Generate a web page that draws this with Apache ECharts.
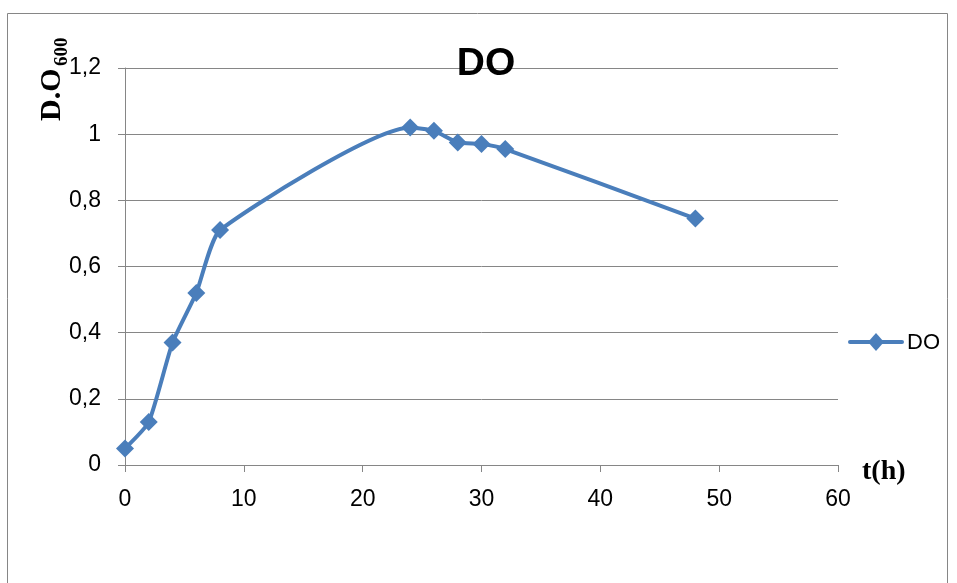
<!DOCTYPE html>
<html>
<head>
<meta charset="utf-8">
<script src="https://cdn.jsdelivr.net/npm/echarts@6/dist/echarts.min.js"></script>
<style>
  html, body { margin: 0; padding: 0; background: #ffffff; }
  #chart { width: 957px; height: 583px; }
</style>
</head>
<body>
<div id="chart"></div>
<script>
// Optical density at 600 nm over time
const hours = [0, 2, 4, 6, 8, 24, 26, 28, 30, 32, 48];
const doValues = [0.05, 0.13, 0.37, 0.52, 0.71, 1.02, 1.01, 0.975, 0.97, 0.955, 0.745];
const seriesName = 'DO';

const axisGray = '#868686';
const lineBlue = '#4A7EBB';
const sansFont = 'Liberation Sans, Arial, sans-serif';
const serifFont = 'Liberation Serif, Times New Roman, serif';

const chart = echarts.init(document.getElementById('chart'), null, { renderer: 'canvas' });

chart.setOption({
  animation: false,
  backgroundColor: '#ffffff',
  grid: { left: 125, right: 119, top: 68, bottom: 118, containLabel: false },
  xAxis: {
    type: 'value',
    min: 0, max: 60, interval: 10,
    axisLine: { show: true, lineStyle: { color: axisGray, width: 1 } },
    axisTick: { show: true, length: 7, lineStyle: { color: axisGray } },
    splitLine: { show: false },
    axisLabel: { color: '#000000', fontFamily: sansFont, fontSize: 23, margin: 23 }
  },
  yAxis: {
    type: 'value',
    min: 0, max: 1.2, interval: 0.2,
    axisLine: { show: true, lineStyle: { color: axisGray, width: 1 } },
    axisTick: { show: true, length: 7, lineStyle: { color: axisGray } },
    splitLine: { show: true, lineStyle: { color: axisGray, width: 1 } },
    axisLabel: {
      color: '#000000', fontFamily: sansFont, fontSize: 23, margin: 24,
      formatter: v => (Math.round(v * 10) / 10).toString().replace('.', ',')
    }
  },
  series: [{
    name: seriesName,
    type: 'line',
    data: hours.map((h, i) => [h, doValues[i]]),
    smooth: 0.18,
    symbol: 'diamond',
    symbolSize: 18,
    lineStyle: { color: lineBlue, width: 4 },
    itemStyle: { color: lineBlue }
  }],
  graphic: [
    // outer chart border
    { type: 'rect', shape: { x: 7.5, y: 13.5, width: 940, height: 600 },
      style: { fill: null, stroke: axisGray, lineWidth: 1 }, silent: true, z: -1 },
    // chart title
    { type: 'text', x: 486, y: 64, z: 10,
      style: { text: 'DO', fontFamily: sansFont, fontWeight: 'bold', fontSize: 39,
        fill: '#000', align: 'center', verticalAlign: 'middle' } },
    // y axis name: D.O with subscript 600, reading bottom to top
    { type: 'text', x: 52, y: 121, rotation: Math.PI / 2,
      style: { text: 'D.O', fontFamily: serifFont, fontWeight: 'bold', fontSize: 30,
        fill: '#000', align: 'left', verticalAlign: 'middle' } },
    { type: 'text', x: 62, y: 66, rotation: Math.PI / 2,
      style: { text: '600', fontFamily: serifFont, fontWeight: 'bold', fontSize: 19,
        fill: '#000', align: 'left', verticalAlign: 'middle' } },
    // x axis name t(h)
    { type: 'text', x: 862, y: 472,
      style: { text: 't(h)', fontFamily: serifFont, fontWeight: 'bold', fontSize: 28,
        fill: '#000', verticalAlign: 'middle', align: 'left' } },
    // legend: line + diamond marker + label
    { type: 'line', shape: { x1: 850, y1: 342, x2: 902, y2: 342 },
      style: { stroke: lineBlue, lineWidth: 4, lineCap: 'round' } },
    { type: 'polygon', shape: { points: [[876, 333], [884, 342], [876, 351], [868, 342]] },
      style: { fill: lineBlue } },
    { type: 'text', x: 907, y: 343,
      style: { text: seriesName, fontFamily: sansFont, fontSize: 22, fill: '#000', verticalAlign: 'middle', align: 'left' } }
  ]
});
</script>
</body>
</html>
